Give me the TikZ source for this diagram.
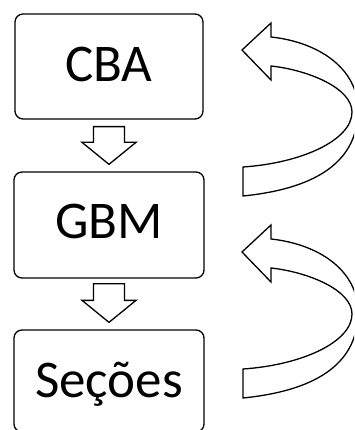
\documentclass[tikz,border=0pt]{standalone}
\usepackage{fontspec}
\setmainfont{Carlito}
\usetikzlibrary{calc}
\tikzset{
  box/.style={draw, line width=1.3pt, rounded corners=8pt, inner sep=0pt,
    font=\fontsize{53}{60}\selectfont, text height=33.5pt},
  blockarrow/.style={draw, line width=1.3pt, line join=miter, fill=white},
  curvearrow/.style={draw, line width=1.3pt, line join=miter, fill=white}
}
\begin{document}
\begin{tikzpicture}[x=1pt,y=-1pt]
\useasboundingbox (0,0) rectangle (354,430);
\clip (0,0) rectangle (354,430);
\node[box, minimum width=188pt, minimum height=105pt, text depth=3pt] (cba) at (109,66.5) {CBA};
\node[box, minimum width=190pt, minimum height=106pt, text depth=7pt] (gbm) at (109,225) {GBM};
\node[box, minimum width=190pt, minimum height=102pt, text depth=0pt] (sec) at (109,381) {Seções};
% block arrows between boxes
\draw[blockarrow] ($(cba.south)+(-15.5,7)$) -- ($(gbm.north)+(-15.5,-29)$) -- ($(gbm.north)+(-27,-29)$) -- ($(gbm.north)+(0,-7)$) -- ($(gbm.north)+(27,-29)$) -- ($(gbm.north)+(15.5,-29)$) -- ($(cba.south)+(15.5,7)$) -- cycle;
\draw[blockarrow] ($(gbm.south)+(-15.5,5)$) -- ($(sec.north)+(-15.5,-29)$) -- ($(sec.north)+(-27,-29)$) -- ($(sec.north)+(0,-7)$) -- ($(sec.north)+(27,-29)$) -- ($(sec.north)+(15.5,-29)$) -- ($(gbm.south)+(15.5,5)$) -- cycle;
% curved return arrows
\foreach \dy in {0,202}{
  \begin{scope}[shift={(0,\dy)}]
  \draw[curvearrow] (242,50) -- (271,23) -- (271,37)
     .. controls (318,42) and (358,68) .. (358,110)
     .. controls (358,158) and (322,188) .. (243,196)
     -- (243,167)
     .. controls (302,163) and (352,140) .. (352,112)
     .. controls (352,88) and (308,70) .. (271,66)
     -- (271,80) -- cycle;
  \end{scope}
}
\end{tikzpicture}
\end{document}
